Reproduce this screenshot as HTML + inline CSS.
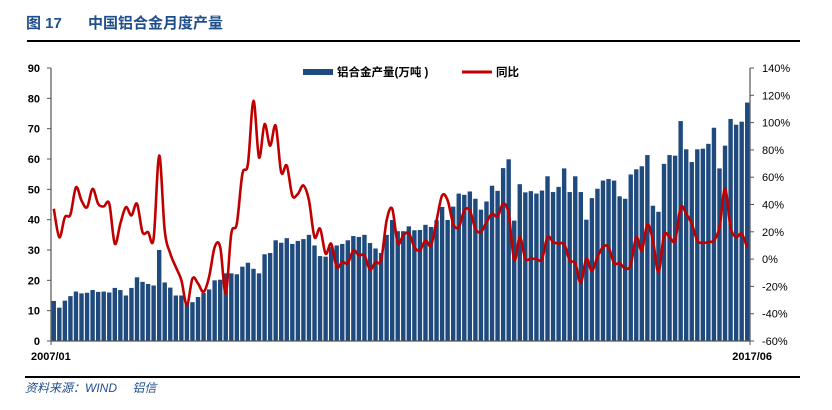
<!DOCTYPE html>
<html><head><meta charset="utf-8"><style>
body{margin:0;background:#fff;width:832px;height:405px;overflow:hidden;font-family:"Liberation Sans","Noto Sans CJK SC",sans-serif}
</style></head><body>
<svg width="832" height="405" xmlns="http://www.w3.org/2000/svg">
<text x="26" y="28" font-size="15" font-weight="bold" fill="#1f4e8c" font-family="Liberation Sans, Noto Sans CJK SC, sans-serif">图 17</text>
<text x="88" y="28" font-size="15" font-weight="bold" fill="#1f4e8c" font-family="Liberation Sans, Noto Sans CJK SC, sans-serif">中国铝合金月度产量</text>
<rect x="27" y="40" width="773" height="2" fill="#000"/>
<g id="plot"></g>
<rect x="25" y="376" width="775" height="2" fill="#000"/>
<text x="25" y="392" font-size="12" font-style="italic" fill="#1f4e8c" font-family="Liberation Sans, Noto Sans CJK SC, sans-serif">资料来源：WIND　 铝信</text>
</svg>
<script>
const production=[13.2,11,13.3,14.8,16.3,15.7,15.9,16.8,16.2,16.3,16,17.5,16.8,15,17.5,21,19.5,18.8,18.3,30,19.3,17.6,15,15,12.5,12.8,14.5,15.8,17,20,20.2,22.3,22.3,22,24.5,25.8,23.8,22.3,28.6,29,33.2,32.4,33.9,32,33,33.6,35,
31.5,28,27.8,31,31.5,32,33.2,34.6,34.3,35,32.3,30.5,29,35,39.9,36.2,36.2,37.8,36.5,36.6,38.3,37.6,39.8,44.2,39.9,44.3,48.6,48.2,49.3,46.9,43.3,46,51.2,49.5,57,59.9,39.7,51.7,49,
49.4,48.6,49.6,54.3,49.1,50.8,56.9,49.1,54.3,49.1,40,47.1,50.2,52.9,53.4,52.9,47.7,46.9,54.9,56.6,57.6,61.3,44.6,42.6,58.4,61.3,61.1,72.5,63.2,59,63.2,63.4,65,70.3,56.9,64.4,73.2,71.3,72.3,78.6];
const yoy=[36.9,16,30.7,32.7,52.6,42.9,38,51.5,40.5,38.5,40.5,11.3,25.9,38,32,40.5,19.8,19.8,15,75.8,21,4,-5.8,-15.5,-33.7,-14.2,-17.9,-24,-13,8.8,8.8,-25.2,18.6,25.9,62.4,69.7,115.9,74.5,98.9,83,97.7,63.6,68.5,46.6,47.8,53.9,42.9,
16.1,22.3,4,11.3,-5.8,-2.1,-3,6.4,2.8,2.8,-7.7,-2.1,-0.9,28.3,36.9,11.8,17.4,19,8.8,6.4,13.7,10,28.3,46.6,42.9,25.9,23.4,35.6,35.6,22.3,19.8,27.1,33.2,31.2,40.5,33.2,-0.9,16.1,0.4,
0.4,0,0,16.1,12.5,11.3,11,-0.9,-3,-17.4,0.4,-8.7,1.5,8.8,8.8,-3,-3,-6.9,-4.2,16.1,6.4,25.4,13.7,-9.4,17.4,16.1,13.7,38,33.2,25.9,13.7,11.8,12.5,13.7,23.4,51.5,23.4,16.1,18.6,8.3];
const leftTicks=[0,10,20,30,40,50,60,70,80,90];
const rightTicks=[-60,-40,-20,0,20,40,60,80,100,120,140];
const xLabels=["2007/01","2017/06"];
const NS="http://www.w3.org/2000/svg";
const g=document.getElementById('plot');
const X0=51,X1=750,Y0=341,Y1=68;
const n=production.length,step=(X1-X0)/n;
const xC=i=>X0+(i+0.5)*step;
const yL=v=>Y0-(v-0)/90*(Y0-Y1);
const yR=v=>Y0-(v+60)/200*(Y0-Y1);
function mk(t,a){const e=document.createElementNS(NS,t);for(const k in a)e.setAttribute(k,a[k]);g.appendChild(e);return e;}
production.forEach((v,i)=>{const r=mk('rect',{x:(xC(i)-2.2).toFixed(2),y:yL(v).toFixed(2),width:4.4,height:(Y0-yL(v)).toFixed(2),fill:'#1f4a7e'});

});
// axes
let a=mk('line',{x1:X0,y1:Y1,x2:X0,y2:Y0,stroke:'#555','stroke-width':1.2});


a=mk('line',{x1:X1,y1:Y1,x2:X1,y2:Y0,stroke:'#555','stroke-width':1.2});


a=mk('line',{x1:X0,y1:Y0,x2:X1,y2:Y0,stroke:'#555','stroke-width':1.2});


leftTicks.forEach(v=>{mk('line',{x1:X0-4,x2:X0,y1:yL(v),y2:yL(v),stroke:'#555'});
const t=mk('text',{x:X0-11,y:yL(v)+4,'font-size':11,'font-weight':'bold','text-anchor':'end',fill:'#000'});t.textContent=v;

});
rightTicks.forEach(v=>{mk('line',{x1:X1,x2:X1+4,y1:yR(v),y2:yR(v),stroke:'#555'});
const t=mk('text',{x:X1+12,y:yR(v)+4,'font-size':11,fill:'#000'});t.textContent=v+'%';

});
[[X0,0,'start'],[X1,1,'end']].forEach(([x,k,an])=>{mk('line',{x1:x,x2:x,y1:Y0,y2:Y0+4,stroke:'#555'});
const t=mk('text',{x:k?x+22:x-20,y:360,'font-size':11,'font-weight':'bold','text-anchor':an});t.textContent=xLabels[k];

});
// line
const pts=yoy.map((v,i)=>[xC(i),yR(v)]);
let d='M'+pts[0][0].toFixed(1)+','+pts[0][1].toFixed(1);
for(let i=0;i<pts.length-1;i++){const p0=pts[Math.max(0,i-1)],p1=pts[i],p2=pts[i+1],p3=pts[Math.min(pts.length-1,i+2)];
d+=`C${(p1[0]+(p2[0]-p0[0])/6).toFixed(1)},${(p1[1]+(p2[1]-p0[1])/6).toFixed(1)} ${(p2[0]-(p3[0]-p1[0])/6).toFixed(1)},${(p2[1]-(p3[1]-p1[1])/6).toFixed(1)} ${p2[0].toFixed(1)},${p2[1].toFixed(1)}`;}
const ln=mk('path',{d:d,fill:'none',stroke:'#c00000','stroke-width':2.6,'stroke-linejoin':'round'});


// legend
const lg=mk('rect',{x:303,y:69,width:30,height:6,fill:'#1f4a7e'});


let lt=mk('text',{x:337,y:76,'font-size':11.5,'font-weight':'bold'});lt.textContent='铝合金产量(万吨 )';


const ll=mk('line',{x1:462,x2:492,y1:72,y2:72,stroke:'#c00000','stroke-width':3});


lt=mk('text',{x:496,y:76,'font-size':11.5,'font-weight':'bold'});lt.textContent='同比';


</script>
</body></html>
